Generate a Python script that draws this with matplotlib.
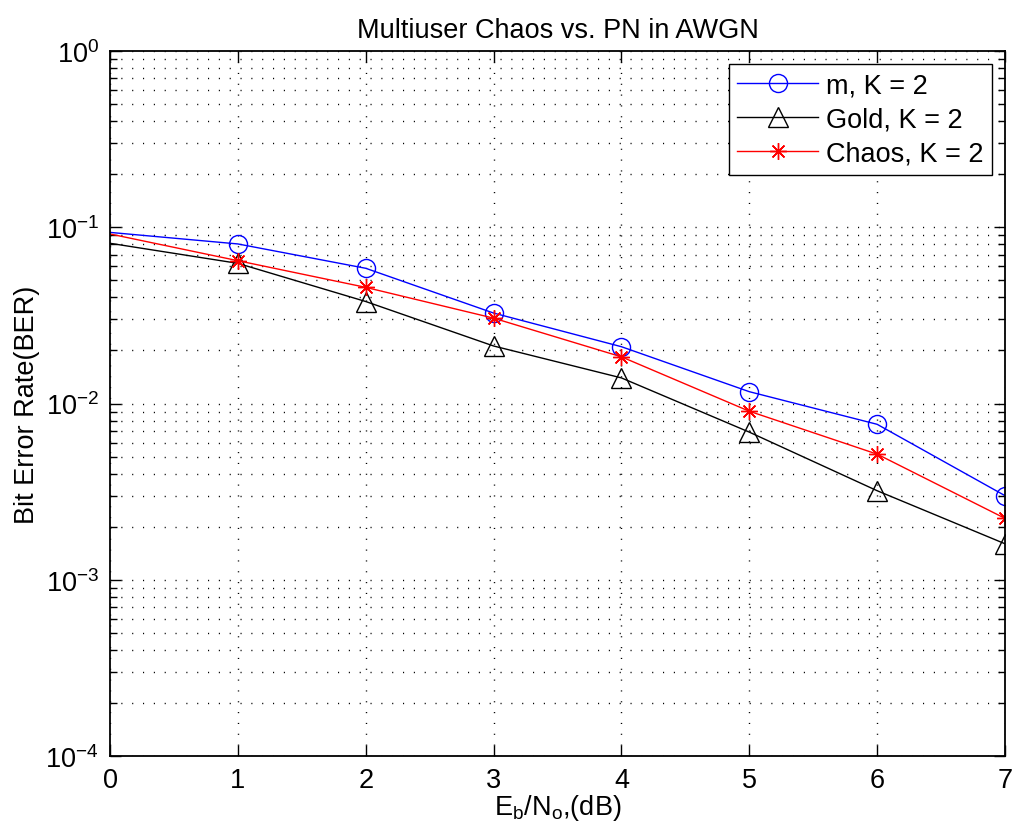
import matplotlib
matplotlib.use("Agg")
import matplotlib.pyplot as plt
import matplotlib.ticker as mticker
import numpy as np

plt.rcParams['font.family'] = ['Liberation Sans', 'DejaVu Sans']
plt.rcParams['mathtext.fontset'] = 'custom'
plt.rcParams['mathtext.rm'] = 'Liberation Sans'
plt.rcParams['mathtext.it'] = 'Liberation Sans'

# Eb/No (dB)
ebno = [0, 1, 2, 3, 4, 5, 6, 7]
# BER per code family, K = 2 users
ber_m = [0.0935, 0.0804, 0.0585, 0.0326, 0.0210, 0.01167, 0.00762, 0.0030]
ber_gold = [0.0811, 0.0624, 0.0379, 0.0212, 0.01397, 0.00688, 0.0032, 0.0016]
ber_chaos = [0.0916, 0.0646, 0.0456, 0.0305, 0.0184, 0.00904, 0.00516, 0.00223]
labels = ['m, K = 2', 'Gold, K = 2', 'Chaos, K = 2']

fs = 19.5

fig = plt.figure(figsize=(10.14, 8.37), dpi=100)
ax = fig.add_axes([110/1014, 80/837, 895/1014, 705/837])

mk = slice(1, None)  # no marker at the first point
ax.semilogy(ebno, ber_m, color='b', marker='o', mfc='none', ms=13,
            lw=1.0, mew=1.0, markevery=mk, label=labels[0])
ax.semilogy(ebno, ber_gold, color='k', marker='^', mfc='none', ms=14,
            lw=1.0, mew=1.0, markevery=mk, label=labels[1])
ax.semilogy(ebno, ber_chaos, color='r', marker=(8, 2, 0), ms=12,
            lw=1.0, mew=1.0, markevery=mk, label=labels[2])

ax.set_xlim(0, 7)
ax.set_ylim(1e-4, 1e0)
ax.set_xticks(range(8))
ax.yaxis.set_major_locator(mticker.LogLocator(base=10, numticks=10))
ax.yaxis.set_minor_locator(mticker.LogLocator(base=10, subs=np.arange(2, 10), numticks=20))
ax.yaxis.set_minor_formatter(mticker.NullFormatter())

dots = (0, (0.8, 7))
ax.grid(which='major', axis='both', color='k', linestyle=dots, lw=1.0)
ax.grid(which='minor', axis='y', color='k', linestyle=dots, lw=1.0)

ax.tick_params(which='both', direction='in', top=True, right=True, labelsize=fs, width=1.0)
ax.tick_params(which='major', length=8, pad=8)
ax.tick_params(which='minor', length=5)
for s in ax.spines.values():
    s.set_linewidth(1.3)

ax.set_title('Multiuser Chaos vs. PN in AWGN', fontsize=fs, pad=10)
ax.set_xlabel(r'$\mathregular{E_b/N_o}$,(dB)', fontsize=fs, labelpad=-1)
ax.set_ylabel('Bit Error Rate(BER)', fontsize=fs, labelpad=4)

leg = ax.legend(loc='upper right', fontsize=fs, fancybox=False, framealpha=1,
                edgecolor='k', handlelength=3.0, borderaxespad=0.48,
                handletextpad=0.3, labelspacing=0.3, borderpad=0.3)
leg.get_frame().set_linewidth(1.0)

fig.savefig('out.png', dpi=100)
